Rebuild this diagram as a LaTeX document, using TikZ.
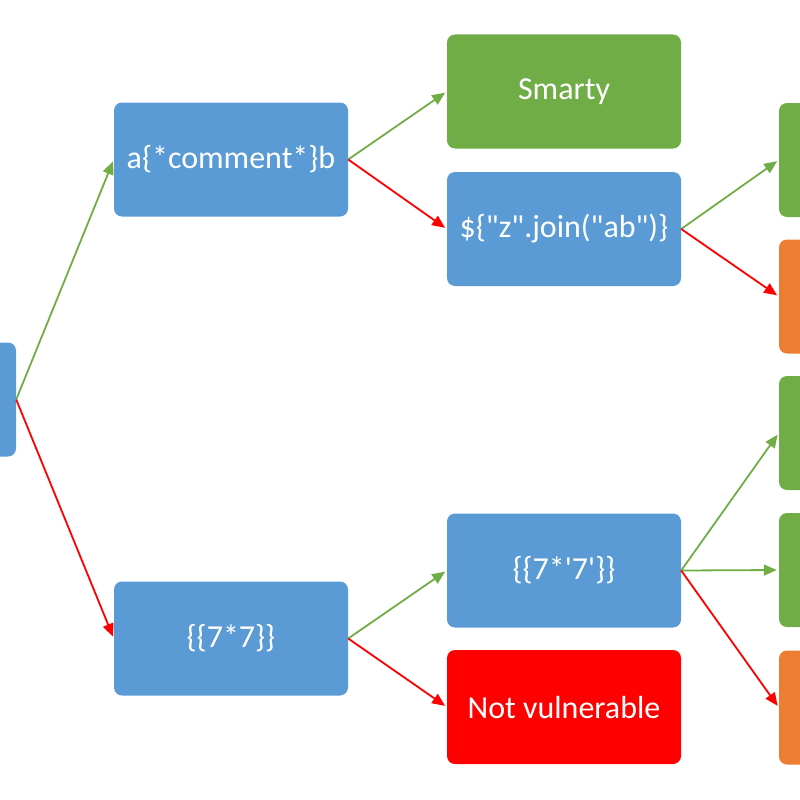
\documentclass[tikz,border=0pt]{standalone}
\usepackage{fontspec}
\setmainfont{Carlito}[Ligatures=TeXOff]
\usetikzlibrary{arrows.meta}
\definecolor{nblue}{HTML}{5B9BD5}
\definecolor{ngreen}{HTML}{70AD47}
\definecolor{norange}{HTML}{ED7D31}
\definecolor{nred}{HTML}{FF0000}
\tikzset{
  box/.style={rectangle, rounded corners=8pt, minimum width=234pt, minimum height=114pt, inner sep=0pt, text=white, font=\fontsize{32}{38}\selectfont},
  bluebox/.style={box, fill=nblue},
  greenbox/.style={box, fill=ngreen},
  orangebox/.style={box, fill=norange},
  redbox/.style={box, fill=nred},
  yes/.style={draw=ngreen, line width=1.8pt, -{Triangle[length=13pt,width=11pt]}, shorten >=2pt},
  no/.style={draw=nred, line width=1.8pt, -{Triangle[length=13pt,width=11pt]}, shorten >=2pt}
}
\begin{document}
\begin{tikzpicture}[x=1pt,y=-1pt]
\useasboundingbox (0,0) rectangle (800,800);
\clip (0,0) rectangle (800,800);
\node[bluebox] (root) at (-101,399.5) {};
\node[bluebox] (comment) at (231,159.5) {a\{*comment*\}b};
\node[bluebox] (seven) at (231,638.5) {\{\{7*7\}\}};
\node[greenbox] (smarty) at (564,91.5) {Smarty};
\node[bluebox] (join) at (564,229) {\$\{"z".join("ab")\}};
\node[greenbox] (j1) at (896,160) {};
\node[orangebox] (j2) at (896,296.5) {};
\node[bluebox] (tw) at (564,570.5) {\{\{7*'7'\}\}};
\node[redbox] (nv) at (564,707) {Not vulnerable};
\node[greenbox] (t1) at (896,433) {};
\node[greenbox] (t2) at (896,570) {};
\node[orangebox] (t3) at (896,707.5) {};
\draw[yes] (root.east) -- (comment.west);
\draw[no] (root.east) -- (seven.west);
\draw[yes] (comment.east) -- (smarty.west);
\draw[no] (comment.east) -- (join.west);
\draw[yes] (join.east) -- (j1.west);
\draw[no] (join.east) -- (j2.west);
\draw[yes] (seven.east) -- (tw.west);
\draw[no] (seven.east) -- (nv.west);
\draw[yes] (tw.east) -- (t1.west);
\draw[yes] (tw.east) -- (t2.west);
\draw[no] (tw.east) -- (t3.west);
\end{tikzpicture}
\end{document}
